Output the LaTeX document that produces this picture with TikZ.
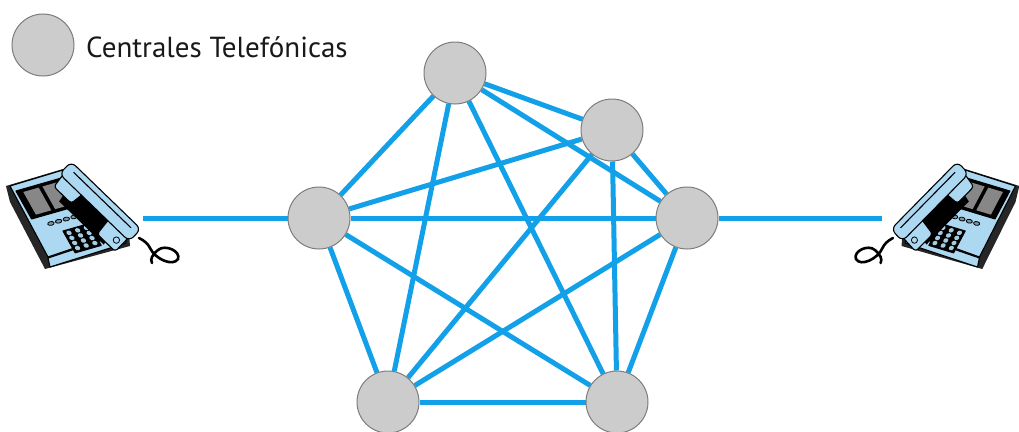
\documentclass[tikz,border=0pt]{standalone}
\usepackage{fontspec}
\usetikzlibrary{backgrounds}
\newfontfamily\legendfont{PT Sans}
\definecolor{linkblue}{RGB}{18,160,232}
\definecolor{exchfill}{RGB}{204,204,204}
\definecolor{exchline}{RGB}{125,125,125}
\definecolor{phoneblue}{RGB}{172,216,242}
\definecolor{panelgray}{RGB}{135,135,135}

\tikzset{
  exchange/.style={circle, fill=exchfill, draw=exchline, line width=1pt,
                   minimum size=62pt, inner sep=0pt},
  trunk/.style={draw=linkblue, line width=5pt},
  ink/.style={draw=black, line width=1.1pt, line join=round},
  % skewed frame lying on the sloping top face of the set
  topface/.style={x={(0.962pt,0.275pt)}, y={(0.488pt,-0.873pt)}},
  phone/.pic={
    % body: dark underside, top face and front strip
    \fill[black!85] (6,186) -- (10,202) -- (45,269) -- (130,246) -- (129,234) -- (63,169) -- cycle;
    \filldraw[ink, fill=phoneblue] (10,186) -- (63,170) -- (124,231) -- (48,257) -- cycle;
    \filldraw[ink, fill=phoneblue] (48,258) -- (124,233) -- (126,243) -- (50,267) -- cycle;
    % display recess with two grey panels
    \begin{scope}[shift={(16,191)}, topface]
      \filldraw[ink, fill=black] (0,0) -- (47,0) -- (47,32) -- (0,32) -- cycle;
      \fill[panelgray] (6,3) -- (22,3) -- (22,29) -- (6,29) -- cycle;
      \fill[panelgray] (26,3) -- (44,3) -- (44,29) -- (26,29) -- cycle;
    \end{scope}
    % row of function keys
    \begin{scope}[shift={(49,224)}, topface]
      \foreach \k in {2,10,18,26,34}
        \filldraw[draw=black, line width=0.8pt, fill=phoneblue!70!black] (\k,0) ellipse [x radius=3.2, y radius=2];
    \end{scope}
    % keypad
    \begin{scope}[shift={(63,231)}, topface]
      \filldraw[ink, fill=black] (0,0) -- (27,0) -- (27,25) -- (0,25) -- cycle;
      \foreach \i in {0,1,2}
        \foreach \j in {0,1,2,3}
          \fill[phoneblue!85!gray] (4.5+9*\i,3.5+5.8*\j) circle [radius=2.5];
    \end{scope}
    % handset resting in its cradle
    \begin{scope}[shift={(70,173)}, x={(0.719pt,-0.695pt)}, y={(-0.695pt,-0.719pt)}]
      \fill[black] (8,6) -- (70,6) -- (74,28) -- (12,28) -- cycle;
      \filldraw[ink, fill=phoneblue, rounded corners=3pt] (-4,5) -- (24,5) -- (22,21) -- (-2,21) -- cycle;
      \filldraw[ink, fill=phoneblue, rounded corners=3pt] (60,5) -- (87,5) -- (87,25) -- (62,25) -- cycle;
      \filldraw[ink, fill=phoneblue, rounded corners=6pt] (-7,-9) -- (90,-9) -- (90,8) -- (-7,8) -- cycle;
      \draw[ink] (2,-3) -- (82,-3);
      \draw[black, line width=0.8pt] (80,16) circle [radius=3.2];
    \end{scope}
    % coiled cord
    \draw[black, line width=2.6pt, line cap=round]
      (139,238) .. controls (145,241) and (148,244) .. (150,248)
      .. controls (155,259) and (173,267) .. (178,259)
      .. controls (181,251) and (165,244) .. (158,250)
      .. controls (152,255) and (150,259) .. (152,263);
  }
}

\begin{document}
\begin{tikzpicture}[x=1pt, y=-1pt]
  \useasboundingbox (0,0) rectangle (1019,431);

  % telephone exchanges
  \node[exchange] (T)  at (455,73)  {};
  \node[exchange] (U)  at (612,130) {};
  \node[exchange] (L)  at (319,218) {};
  \node[exchange] (R)  at (687,218) {};
  \node[exchange] (BL) at (388,402) {};
  \node[exchange] (BR) at (617,402) {};

  % subscriber telephones and their line ends
  \pic at (0,0) {phone};
  \pic[xscale=-0.95] at (1025,0) {phone};
  \coordinate (pl) at (143,218);
  \coordinate (pr) at (882,218);

  % full mesh of trunks between every pair of exchanges
  \begin{scope}[on background layer]
    \foreach \a/\b in {T/U, T/L, T/R, T/BL, T/BR,
                       U/L, U/R, U/BL, U/BR,
                       L/R, L/BL, L/BR,
                       R/BL, R/BR,
                       BL/BR}
      \draw[trunk] (\a) -- (\b);
    \draw[trunk] (pl) -- (L);
    \draw[trunk] (R) -- (pr);
  \end{scope}

  % legend
  \node[exchange] (key) at (43,45) {};
  \node[anchor=base west, inner sep=0pt, text=black!90,
        font=\legendfont\fontsize{29}{29}\selectfont] (keytext) at (86,57) {Centrales Telefónicas};
\end{tikzpicture}
\end{document}
